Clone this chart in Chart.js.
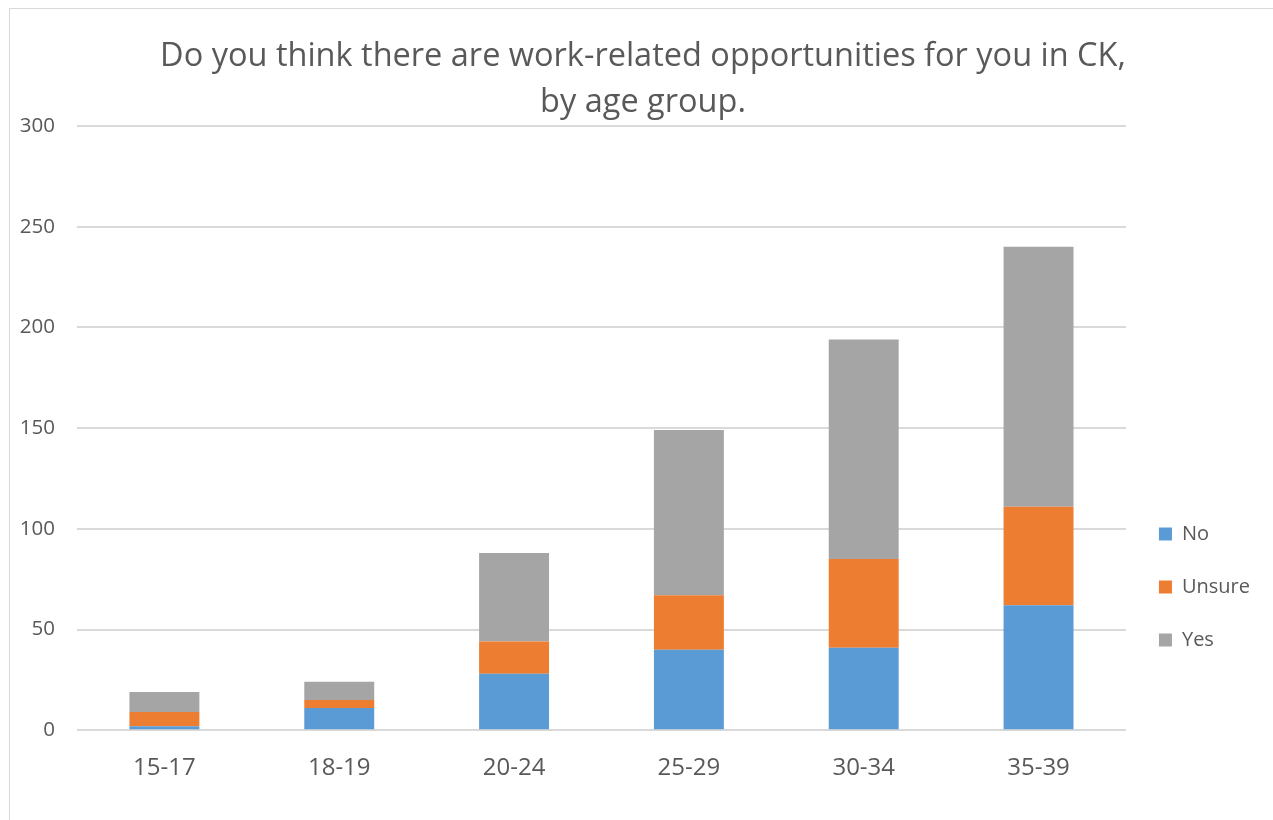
<!DOCTYPE html>
<html>
<head>
<meta charset="utf-8">
<script src="https://cdn.jsdelivr.net/npm/chart.js@4"></script>
<style>
  html, body { margin: 0; padding: 0; background: #fff; }
  #wrap { position: absolute; left: 0; top: 0; width: 1273px; height: 820px; }
  #frame { position: absolute; left: 9px; top: 8px; width: 1300px; height: 900px; border: 1px solid #d9d9d9; }
</style>
</head>
<body>
<div id="frame"></div>
<div id="wrap"><canvas id="chart" width="1273" height="820"></canvas></div>
<script>
// Age groups and answers (counts)
const ageGroups = ['15-17', '18-19', '20-24', '25-29', '30-34', '35-39'];
const noValues = [2, 11, 28, 40, 41, 62];
const unsureValues = [7, 4, 16, 27, 44, 49];
const yesValues = [10, 9, 44, 82, 109, 129];
const yTicks = [0, 50, 100, 150, 200, 250, 300];

const textColor = '#595959';
const font = "'Open Sans', 'Liberation Sans', sans-serif";

// Excel puts the legend lower than the middle and the title a bit right
const nudge = {
  id: 'nudge',
  afterLayout(chart) {
    const lg = chart.legend;
    const h = lg.bottom - lg.top;
    lg.top = 491;
    lg.bottom = 491 + h;
    const t = chart.titleBlock;
    t.left = 13;
    t.right = 1273;
  }
};

new Chart(document.getElementById('chart'), {
  type: 'bar',
  data: {
    labels: ageGroups,
    datasets: [
      { label: 'No', data: noValues, backgroundColor: '#5b9bd5' },
      { label: 'Unsure', data: unsureValues, backgroundColor: '#ed7d31' },
      { label: 'Yes', data: yesValues, backgroundColor: '#a5a5a5' }
    ]
  },
  plugins: [nudge],
  options: {
    responsive: false,
    animation: false,
    layout: { padding: { left: 20, right: 13, top: 10, bottom: 13 } },
    datasets: { bar: { categoryPercentage: 1, barPercentage: 0.4 } },
    plugins: {
      title: {
        display: true,
        text: ['Do you think there are work-related opportunities for you in CK,', 'by age group.'],
        color: textColor,
        font: { family: font, size: 32.5, weight: 'normal', lineHeight: 1.4 },
        padding: { top: 24, bottom: 1 }
      },
      legend: {
        position: 'right',
        align: 'start',
        labels: {
          color: textColor,
          font: { family: font, size: 20 },
          boxWidth: 13,
          boxHeight: 13,
          padding: 33
        }
      },
      tooltip: { enabled: false }
    },
    scales: {
      x: {
        stacked: true,
        grid: { display: false, drawTicks: false },
        border: { display: false },
        ticks: { color: textColor, font: { family: font, size: 24 }, padding: 24 }
      },
      y: {
        stacked: true,
        min: 0,
        max: 300,
        afterBuildTicks: axis => { axis.ticks = yTicks.map(v => ({ value: v })); },
        afterFit: axis => { axis.width = 57; },
        grid: { color: '#d9d9d9', lineWidth: 2, drawTicks: false },
        border: { display: false },
        ticks: { color: textColor, font: { family: font, size: 20.5 }, padding: 22 }
      }
    }
  }
});
</script>
</body>
</html>
